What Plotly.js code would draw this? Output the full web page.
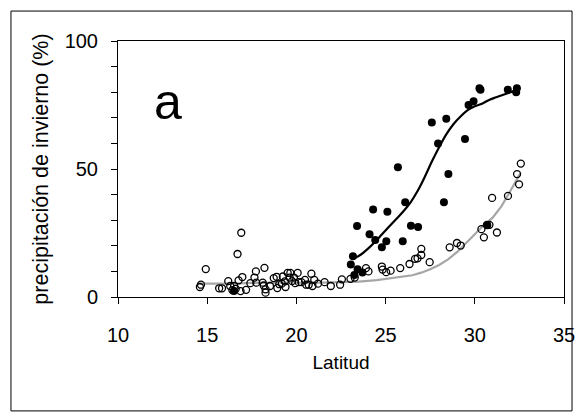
<!DOCTYPE html>
<html>
<head>
<meta charset="utf-8">
<script src="https://cdn.plot.ly/plotly-3.0.1.min.js"></script>
<style>
html,body{margin:0;padding:0;background:#fff;}
#chart{width:579px;height:419px;}
</style>
</head>
<body>
<div id="chart"></div>
<script>
// Open circles (latitude, winter precipitation %)
const openLat = [14.59,14.65,14.92,15.67,15.83,16.18,16.29,16.41,16.51,16.60,16.70,16.76,16.87,16.91,16.97,17.18,17.42,17.65,17.73,17.75,18.11,18.21,18.17,18.27,18.27,18.52,18.73,18.89,18.93,19.04,19.18,19.24,19.35,19.39,19.51,19.62,19.66,19.76,19.86,19.93,20.07,20.13,20.28,20.48,20.55,20.69,20.84,20.90,21.00,21.21,21.58,21.93,22.45,22.55,23.03,23.27,23.90,24.04,24.79,24.83,25.03,25.28,25.82,26.34,26.65,26.79,27.00,27.00,27.47,28.59,29.00,29.21,30.37,30.51,30.68,30.82,30.97,31.24,31.86,32.37,32.48,32.58];
const openVal = [3.9,4.8,10.9,3.4,3.4,6.2,4.3,2.7,4.3,3.2,16.8,6.5,2.3,25.1,7.8,2.8,5.4,7.6,10.0,5.6,5.6,11.4,4.5,3.0,1.7,4.3,7.4,7.9,3.5,5.0,5.2,8.0,6.1,3.9,9.4,7.6,9.4,6.2,7.6,5.4,9.4,5.8,5.8,6.7,4.8,4.8,9.1,4.3,6.7,5.2,5.8,4.3,4.8,6.9,7.1,7.6,11.3,10.0,11.9,10.7,9.7,10.3,11.3,12.9,14.9,15.1,18.8,16.4,13.6,19.4,21.1,20.1,26.5,23.3,28.2,28.2,38.7,25.2,39.5,48.0,44.0,52.1];
// Filled circles
const fillLat = [16.5,23.05,23.17,23.25,23.4,23.43,23.7,24.1,24.3,24.42,24.79,25.04,25.1,25.69,25.96,26.1,26.42,26.82,27.59,27.94,28.27,28.4,28.52,29.45,29.65,29.93,30.26,30.32,30.7,31.85,32.32,32.36];
const fillVal = [2.3,12.7,15.9,8.6,27.7,10.8,9.6,24.5,34.2,22.3,19.4,21.8,33.3,50.7,21.8,37.0,27.8,27.3,68.2,60.0,37.0,69.6,48.0,61.7,75.0,76.5,81.5,81.0,28.0,81.0,80.0,81.5];
// Fitted curve, filled circles (black)
const blackLat = [23.2,23.6,24.0,24.4,24.8,25.2,25.6,26.0,26.4,26.8,27.2,27.6,28.0,28.4,28.8,29.2,29.6,30.0,30.4,30.8,31.2,31.6,32.0,32.4];
const blackVal = [15,16.5,18.8,21.5,24.5,27.5,30.5,33.5,37,41.5,47,53,58.5,63.5,67.5,70.5,73,74.5,75.5,77,78,79,80,81];
// Fitted curve, open circles (grey)
const greyLat = [14.5,15.5,16.5,17.5,18.5,19.5,20.5,21.5,22.5,23.5,24.5,25.5,26.5,27.0,27.5,28.0,28.5,29.0,29.5,30.0,30.5,31.0,31.5,32.0,32.55];
const greyVal = [5.2,5.2,5.2,5.5,5.6,5.6,5.6,5.6,5.7,6.0,6.6,7.5,8.5,9.5,10.8,12.5,14.7,17.5,21,24.5,28,31,35.5,41.5,48.3];

const yTickVals = [0,10,20,30,40,50,60,70,80,90,100];
const yTickText = ['0','','','','','50','','','','','100'];
const panelLabel = 'a';

const traces = [
  {x: greyLat, y: greyVal, mode: 'lines', line: {color: '#a6a6a6', width: 2.2}, hoverinfo: 'skip', showlegend: false},
  {x: openLat, y: openVal, mode: 'markers', marker: {symbol: 'circle-open', size: 7, color: '#000', line: {width: 1.3, color: '#000'}}, showlegend: false},
  {x: fillLat, y: fillVal, mode: 'markers', marker: {symbol: 'circle', size: 8, color: '#000'}, showlegend: false},
  {x: blackLat, y: blackVal, mode: 'lines', line: {color: '#000', width: 2.2, shape: 'spline'}, hoverinfo: 'skip', showlegend: false}
];

const font = {family: 'Liberation Sans, Arial, sans-serif', color: '#000'};

const layout = {
  width: 579, height: 419,
  margin: {l: 118, r: 15, t: 41, b: 122},
  paper_bgcolor: '#fff', plot_bgcolor: '#fff',
  showlegend: false,
  font: font,
  xaxis: {
    range: [10, 35], tickvals: [10,15,20,25,30,35],
    showgrid: false, zeroline: false,
    showline: true, linecolor: '#000', linewidth: 1, mirror: true,
    ticks: 'outside', ticklen: 6, tickcolor: '#000', tickwidth: 1,
    ticklabelstandoff: 14,
    tickfont: {family: font.family, size: 20, color: '#000'},
    title: {text: 'Latitud', font: {family: font.family, size: 19, color: '#000'}, standoff: 10}
  },
  yaxis: {
    range: [0, 100], tickvals: yTickVals, ticktext: yTickText,
    showgrid: false, zeroline: false,
    showline: true, linecolor: '#000', linewidth: 1, mirror: true,
    ticks: 'outside', ticklen: 6, tickcolor: '#000', tickwidth: 1,
    ticklabelstandoff: 9,
    tickfont: {family: font.family, size: 20, color: '#000'},
    title: {text: 'precipitación de invierno (%)', font: {family: font.family, size: 21.5, color: '#000'}, standoff: 10}
  },
  annotations: [
    {x: 12.83, y: 76, xref: 'x', yref: 'y', text: panelLabel, showarrow: false,
     font: {family: font.family, size: 50, color: '#000'}, xanchor: 'center', yanchor: 'middle'}
  ],
  shapes: [
    {type: 'rect', xref: 'paper', yref: 'paper', x0: -0.240, x1: 1.018, y0: -0.445, y1: 1.117,
     line: {color: '#000', width: 1}, fillcolor: 'rgba(0,0,0,0)', layer: 'below'}
  ]
};

Plotly.newPlot('chart', traces, layout, {displayModeBar: false, staticPlot: true});
</script>
</body>
</html>
